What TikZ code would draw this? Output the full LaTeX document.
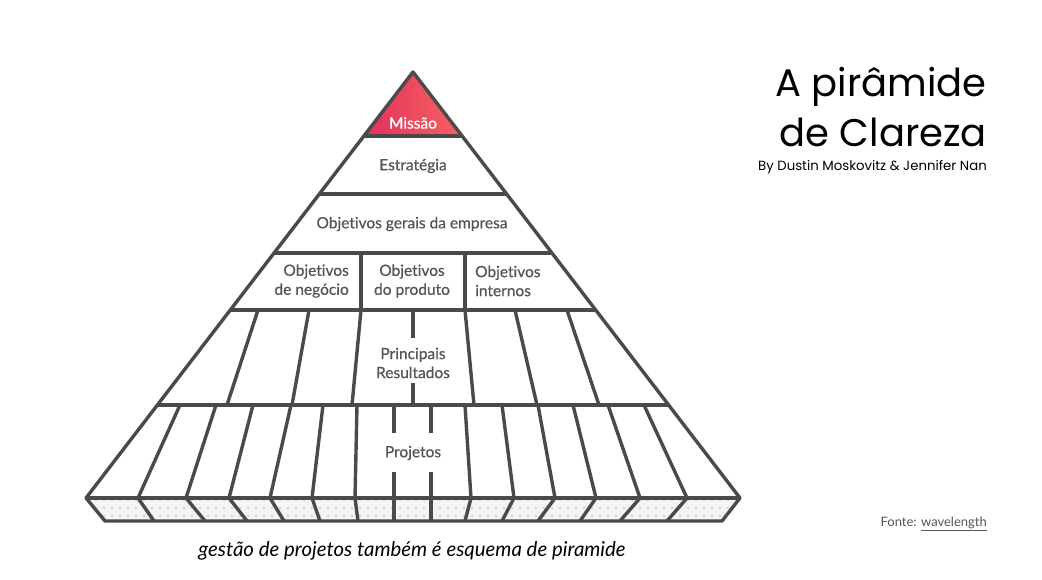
\documentclass[tikz,border=0pt]{standalone}
\usepackage{fontspec}
\setmainfont[Ligatures=NoCommon]{Lato}
\newfontfamily\pyrfont[FakeBold=0.6,Ligatures=NoCommon]{Lato}
\newfontfamily\titlefont{Poppins}
\usetikzlibrary{patterns.meta}
\definecolor{pyrline}{RGB}{74,74,74}
\definecolor{pyrtext}{RGB}{85,85,85}
\definecolor{missaoleft}{RGB}{226,48,92}
\definecolor{missaoright}{RGB}{247,100,96}
\definecolor{dotgray}{RGB}{200,200,200}
\definecolor{stripbg}{RGB}{244,244,244}
\begin{document}
\begin{tikzpicture}[x=1pt,y=-1pt,line join=round,font=\pyrfont\fontsize{15.5}{19}\selectfont]
	\tikzset{edge/.style={draw=pyrline,line width=3.4pt},
		lbl/.style={text=pyrtext,inner sep=0pt,align=center}}
	\useasboundingbox (0,0) rectangle (1042,580);
	% top piece and bottom strip
	\shade[left color=missaoleft,right color=missaoright] (413,72)--(364,136)--(462,136)--cycle;
	\fill[stripbg] (86,498)--(740,498)--(722,521)--(105,521)--cycle;
	\fill[pattern={Dots[distance=8pt,radius=1.1pt]},pattern color=dotgray] (86,498)--(740,498)--(722,521)--(105,521)--cycle;
	\draw[edge] (86,498)--(413,72)--(740,498)--(722,521)--(105,521)--cycle;
	\foreach \y/\l/\r in {136/364/462,194/319/507,253/274/552,310/230/596,405/157/669,498/86/740}
		\draw[edge] (\l,\y)--(\r,\y);
	% objetivos
	\foreach \x in {361,465}
		\draw[edge] (\x,253)--(\x,310);
	% resultados
	\foreach \a/\b in {258/227,309/292,361/352,465/474,515/537,567/599}
		\draw[edge] (\a,310)--(\b,405);
	\draw[edge] (413,310)--(413,338) (413,383)--(413,405);
	% projetos
	\foreach \a/\b/\c in {180/138/154,216/186/205,253/229/247,291/270/284,323/312/320,357/355/358,465/471/465,502/514/502,538/555/538,573/596/580,608/640/620,644/687/667}
		\draw[edge] (\a,405)--(\b,498)--(\c,521);
	\foreach \x in {394,431}
		\draw[edge] (\x,405)--(\x,433) (\x,472)--(\x,521);
	% labels
	\node[lbl,text=white] (missao) at (413,123) {Missão};
	\node[lbl] (estrategia) at (413,166) {Estratégia};
	\node[lbl] (gerais) at (412,224) {Objetivos gerais da empresa};
	\node[lbl,anchor=east,align=right] (negocio) at (349,281) {Objetivos\\de negócio};
	\node[lbl] (produto) at (412,281) {Objetivos\\do produto};
	\node[lbl,anchor=west,align=left] (internos) at (475,281) {Objetivos\\internos};
	\node[lbl] (resultados) at (413,363) {Principais\\Resultados};
	\node[lbl] (projetos) at (413,453) {Projetos};
	% title
	\node[anchor=base east,inner sep=0pt,font=\titlefont\fontsize{38.5}{46}\selectfont] (titulo) at (987,97) {A pirâmide};
	\node[anchor=base east,inner sep=0pt,font=\titlefont\fontsize{38.5}{46}\selectfont] (clareza) at (987,147) {de Clareza};
	\node[anchor=base east,inner sep=0pt,font=\titlefont\fontsize{13.3}{16}\selectfont] (autores) at (987,171) {By Dustin Moskovitz \& Jennifer Nan};
	\node[anchor=base east,inner sep=0pt,text=pyrtext,font=\normalfont\fontsize{13}{16}\selectfont] (fonte) at (987,526) {Fonte: \underline{wavelength}};
	\node[anchor=base,inner sep=0pt,font=\normalfont\itshape\fontsize{20.4}{24}\selectfont] (nota) at (412,556) {gestão de projetos também é esquema de piramide};
\end{tikzpicture}
\end{document}
